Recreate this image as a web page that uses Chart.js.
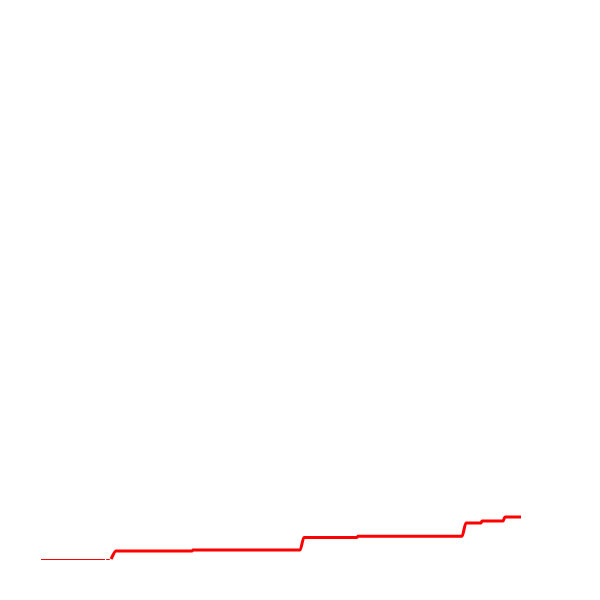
<!DOCTYPE html>
<html>
<head>
<meta charset="utf-8">
<script src="https://cdn.jsdelivr.net/npm/chart.js@4/dist/chart.umd.min.js"></script>
<style>
  html, body { margin: 0; padding: 0; background: #fff; }
  #wrap { width: 600px; height: 600px; }
</style>
</head>
<body>
<div id="wrap"><canvas id="chart" width="600" height="600"></canvas></div>
<script>
// baseline (thin) part
const baseX = [0, 16, null, 16.3, 17.2]
const baseY = [-0.1, -0.1, null, -0.1, -0.1]

// cumulative step line
const stepX = [17.5, 18.75, 37.75, 38, 64.75, 65.75, 79, 79.25, 105.25, 106.25, 110, 110.25, 115.5, 116, 120]
const stepY = [0, 1.6, 1.6, 1.8, 1.8, 4.3, 4.3, 4.55, 4.55, 7.2, 7.2, 7.6, 7.6, 8.4, 8.4]

function toPoints(xs, ys) {
  return xs.map((x, i) => (x === null ? { x: null, y: null } : { x: x, y: ys[i] }))
}

const ctx = document.getElementById('chart').getContext('2d')
new Chart(ctx, {
  type: 'line',
  data: {
    datasets: [{
      data: toPoints(baseX, baseY),
      borderColor: '#ff0000',
      borderWidth: 1,
      pointRadius: 0,
      spanGaps: false,
      clip: false
    }, {
      data: toPoints(stepX, stepY),
      borderColor: '#ff0000',
      borderWidth: 3,
      pointRadius: 0,
      cubicInterpolationMode: 'monotone',
      clip: false
    }]
  },
  options: {
    responsive: false,
    animation: false,
    layout: { padding: { left: 41, right: 79, top: 59, bottom: 41 } },
    plugins: { legend: { display: false }, tooltip: { enabled: false } },
    scales: {
      x: { type: 'linear', min: 0, max: 120, display: false },
      y: { min: 0, max: 100, display: false }
    }
  }
})
</script>
</body>
</html>
